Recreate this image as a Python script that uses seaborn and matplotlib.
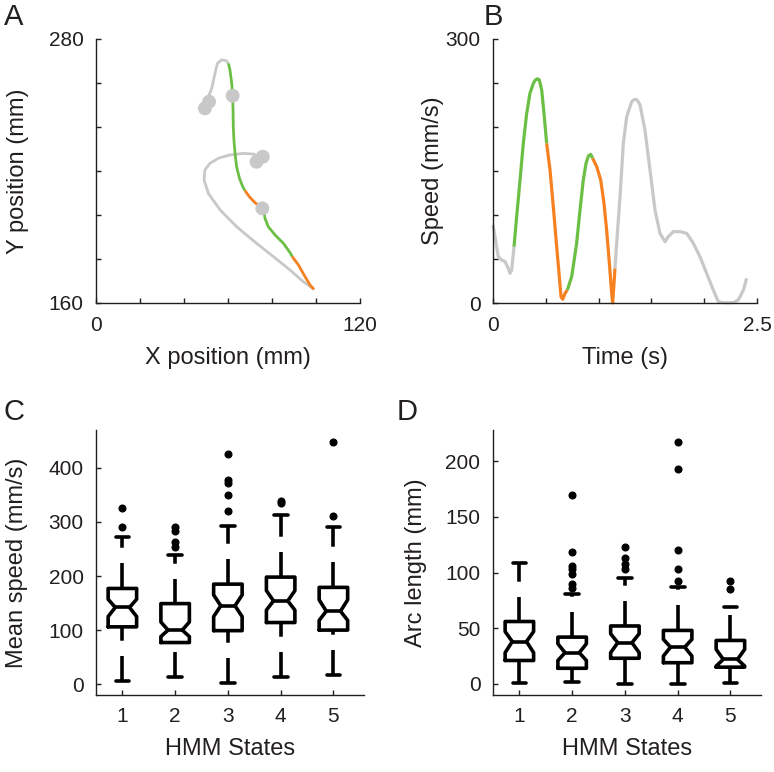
import matplotlib
matplotlib.use("Agg")
import matplotlib.pyplot as plt
import seaborn as sns

GRAY = "#c8c8c8"
GREEN = "#6cbf45"
ORANGE = "#f68121"
INK = "#231f20"

# ---- panel A: hand trajectory, pieces coloured by HMM state (mm)
a_gray1_x = [49.5, 50.6, 52.6, 54.1, 55.2, 57.1, 59.1, 60.2]
a_gray1_y = [248.5, 252.3, 257.6, 264.4, 268.9, 270.5, 270.2, 268.9]
a_green1_x = [60.2, 60.9, 61.7, 62.1, 62.3, 62.4, 62.7, 63.2, 63.9, 65.2, 66.7, 67.7]
a_green1_y = [268.9, 265.9, 259.8, 254.2, 247.7, 240.2, 234.1, 228.0, 222.0, 216.7, 212.9, 211.1]
a_orange1_x = [67.7, 69.7, 72.3, 74.5]
a_orange1_y = [211.1, 208.3, 205.6, 203.8]
a_gray2_x = [74.5, 76.1, 76.4]
a_gray2_y = [203.8, 202.3, 201.1]
a_green2_x = [76.4, 76.8, 78.3, 81.4, 85.2, 88.2, 89.2]
a_green2_y = [201.1, 198.5, 194.7, 190.9, 187.1, 182.9, 181.1]
a_orange2_x = [89.2, 92.0, 95.0, 97.3, 99.1]
a_orange2_y = [181.1, 177.3, 172.0, 168.2, 166.2]
a_gray3_x = [99.1, 94.2, 88.2, 80.6, 73.0, 63.9, 56.4, 51.1, 49.1, 49.5, 51.8,
             55.6, 60.9, 67.0, 71.5, 73.8, 75.3]
a_gray3_y = [166.2, 169.7, 175.0, 181.1, 187.1, 194.7, 202.3, 209.8, 215.9, 220.5,
             223.5, 225.8, 227.3, 228.0, 227.7, 226.8, 226.2]
a_dot_x = [49.5, 51.4, 62.1, 73.0, 75.8, 75.6]
a_dot_y = [248.5, 251.5, 254.2, 224.2, 226.5, 203.0]

# ---- panel B: speed profile (s, mm/s)
b_gray1_t = [0.0, 0.019, 0.050, 0.082, 0.114, 0.145, 0.161, 0.177, 0.199]
b_gray1_v = [88.6, 75.4, 52.7, 48.9, 47.0, 39.4, 33.7, 37.5, 64.0]
b_green1_t = [0.199, 0.224, 0.256, 0.287, 0.319, 0.350, 0.382, 0.400, 0.414, 0.427,
              0.439, 0.461, 0.483, 0.508]
b_green1_v = [64.0, 98.1, 139.8, 181.4, 215.5, 238.3, 249.6, 253.2, 254.5, 254.6,
              253.4, 242.0, 215.5, 181.4]
b_orange1_t = [0.508, 0.540, 0.571, 0.603, 0.628, 0.644, 0.660, 0.682, 0.704]
b_orange1_v = [181.4, 151.1, 109.5, 64.0, 29.9, 7.2, 4.2, 11.0, 14.8]
b_green2_t = [0.704, 0.745, 0.792, 0.824, 0.855, 0.881, 0.903, 0.925, 0.944]
b_green2_v = [14.8, 29.9, 67.8, 105.7, 139.8, 158.7, 167.0, 168.9, 164.4]
b_orange2_t = [0.944, 0.982, 1.020, 1.051, 1.076, 1.102, 1.124, 1.133, 1.146, 1.155]
b_orange2_v = [164.4, 154.9, 139.8, 113.3, 83.0, 45.1, 11.0, 0.0, 22.3, 39.4]
b_gray2_t = [1.155, 1.171, 1.203, 1.234, 1.266, 1.313, 1.335, 1.354, 1.372, 1.392,
             1.439, 1.487, 1.534, 1.581, 1.629, 1.660, 1.708, 1.771, 1.834, 1.897,
             1.960, 2.023, 2.086, 2.134, 2.181, 2.276, 2.323, 2.371, 2.402]
b_gray2_v = [39.4, 67.8, 120.8, 181.4, 211.7, 228.8, 231.0, 231.4, 229.5, 225.0,
             196.6, 151.1, 105.7, 79.2, 69.7, 75.4, 81.1, 81.1, 79.2, 67.8,
             52.7, 33.7, 14.8, 1.5, 0.4, 0.4, 3.4, 14.8, 28.0]

# ---- panels C/D: box statistics per HMM state
states = [1, 2, 3, 4, 5]
c_med = [142, 100, 145, 154, 135]
c_q1 = [106, 77, 99, 114, 100]
c_q3 = [177, 149, 185, 198, 179]
c_lo = [6, 13, 2, 13, 17]
c_hi = [273, 239, 293, 313, 291]
c_cilo = [125, 88, 125, 137, 118]
c_cihi = [157, 115, 165, 173, 156]
c_fliers = [[290, 325], [253, 263, 284, 290], [321, 349, 372, 378, 426], [335, 338], [311, 447]]

d_med = [38, 28, 37, 33, 22]
d_q1 = [21, 14, 23, 19, 15]
d_q3 = [56, 42, 52, 48, 39]
d_lo = [1, 2, 0, 0, 1]
d_hi = [109, 81, 95, 87, 69]
d_cilo = [28, 21, 28, 25, 16]
d_cihi = [47, 36, 45, 40, 31]
d_fliers = [[], [86, 90, 99, 103, 106, 118, 170], [103, 108, 113, 123],
            [92, 103, 120, 193, 217], [85, 92]]

sns.set_theme(style="ticks")
plt.rcParams["font.family"] = ["Liberation Sans", "DejaVu Sans"]
plt.rcParams["lines.scale_dashes"] = False
plt.rcParams["text.color"] = INK
plt.rcParams["axes.labelcolor"] = INK

fig = plt.figure(figsize=(7.74, 7.72), dpi=100)
W, H = 774, 772


def add_ax(x0, y_top, w, h):
    return fig.add_axes([x0 / W, 1 - (y_top + h) / H, w / W, h / H])


def style(ax):
    sns.despine(ax=ax)
    for s in ("left", "bottom"):
        ax.spines[s].set_color(INK)
        ax.spines[s].set_linewidth(1.0)
    ax.tick_params(direction="in", length=3.5, width=1, color=INK,
                   labelsize=15, labelcolor=INK, pad=9)


def segs(ax, pieces, lw, sort):
    for xs, ys, col in pieces:
        sns.lineplot(x=xs, y=ys, color=col, linewidth=lw, sort=sort,
                     estimator=None, ax=ax, clip_on=False,
                     solid_capstyle="butt", solid_joinstyle="round")


# A
axA = add_ax(96, 39, 264, 264)
segs(axA, [(a_gray1_x, a_gray1_y, GRAY), (a_gray3_x, a_gray3_y, GRAY),
           (a_gray2_x, a_gray2_y, GRAY),
           (a_green1_x, a_green1_y, GREEN), (a_orange1_x, a_orange1_y, ORANGE),
           (a_green2_x, a_green2_y, GREEN), (a_orange2_x, a_orange2_y, ORANGE)],
     2.0, False)
sns.scatterplot(x=a_dot_x, y=a_dot_y, color=GRAY, s=100, edgecolor="none",
                ax=axA, zorder=5)
axA.set_xlim(0, 120)
axA.set_ylim(160, 280)
axA.set_xticks(range(0, 121, 20))
axA.set_xticklabels(["0", "", "", "", "", "", "120"])
axA.set_yticks(range(160, 281, 20))
axA.set_yticklabels(["160", "", "", "", "", "", "280"])
axA.set_xlabel("X position (mm)", fontsize=17)
axA.set_ylabel("Y position (mm)", fontsize=17)
style(axA)
axA.xaxis.set_label_coords(0.5, -0.165)
axA.yaxis.set_label_coords(-0.254, 0.5)

# B
axB = add_ax(493, 39, 264, 264)
segs(axB, [(b_gray1_t, b_gray1_v, GRAY), (b_green1_t, b_green1_v, GREEN),
           (b_orange1_t, b_orange1_v, ORANGE), (b_green2_t, b_green2_v, GREEN),
           (b_orange2_t, b_orange2_v, ORANGE), (b_gray2_t, b_gray2_v, GRAY)],
     2.3, True)
axB.set_xlim(0, 2.5)
axB.set_ylim(0, 300)
axB.set_xticks([0, 0.5, 1.0, 1.5, 2.0, 2.5])
axB.set_xticklabels(["0", "", "", "", "", "2.5"])
axB.set_yticks(range(0, 301, 50))
axB.set_yticklabels(["0", "", "", "", "", "", "300"])
axB.set_xlabel("Time (s)", fontsize=17)
axB.set_ylabel("Speed (mm/s)", fontsize=17)
style(axB)
axB.xaxis.set_label_coords(0.5, -0.165)
axB.yaxis.set_label_coords(-0.186, 0.5)


def boxes(ax, med, q1, q3, lo, hi, cilo, cihi, fliers):
    stats = []
    for i in range(len(states)):
        stats.append(dict(med=med[i], q1=q1[i], q3=q3[i], whislo=lo[i],
                          whishi=hi[i], cilo=cilo[i], cihi=cihi[i],
                          fliers=fliers[i]))
    lw = 2.6
    res = ax.bxp(stats, positions=states, widths=0.54, capwidths=0.38,
                 shownotches=True,
                 boxprops=dict(color="black", linewidth=lw),
                 medianprops=dict(color="black", linewidth=lw),
                 whiskerprops=dict(color="black", linewidth=lw,
                                   linestyle=(0, (18, 11)), dash_capstyle="butt"),
                 capprops=dict(color="black", linewidth=lw),
                 flierprops=dict(marker="o", markerfacecolor="black",
                                 markeredgecolor="black", markersize=4.8,
                                 linestyle="none"))
    for i, st in enumerate(stats):
        # lower whisker drawn upward from the adjacent value, like MATLAB
        res["whiskers"][2 * i].set_ydata([st["whislo"], st["q1"]])
        for cap in res["caps"][2 * i:2 * i + 2]:
            cap.set_xdata([states[i] - 0.13, states[i] + 0.13])


# C
axC = add_ax(96, 430, 268, 265)
boxes(axC, c_med, c_q1, c_q3, c_lo, c_hi, c_cilo, c_cihi, c_fliers)
axC.set_xlim(0.5, 5.58)
axC.set_ylim(-20, 470)
axC.set_xticks(states)
axC.set_xticklabels([str(s) for s in states])
axC.set_yticks([0, 100, 200, 300, 400])
axC.set_xlabel("HMM States", fontsize=17)
axC.set_ylabel("Mean speed (mm/s)", fontsize=17)
style(axC)
axC.xaxis.set_label_coords(0.5, -0.162)
axC.yaxis.set_label_coords(-0.254, 0.5)

# D
axD = add_ax(493, 430, 268, 265)
boxes(axD, d_med, d_q1, d_q3, d_lo, d_hi, d_cilo, d_cihi, d_fliers)
axD.set_xlim(0.5, 5.58)
axD.set_ylim(-10, 228)
axD.set_xticks(states)
axD.set_xticklabels([str(s) for s in states])
axD.set_yticks([0, 50, 100, 150, 200])
axD.set_xlabel("HMM States", fontsize=17)
axD.set_ylabel("Arc length (mm)", fontsize=17)
style(axD)
axD.xaxis.set_label_coords(0.5, -0.162)
axD.yaxis.set_label_coords(-0.246, 0.5)

for lab, x, y in [("A", 14, 17), ("B", 493, 17), ("C", 14, 412), ("D", 407, 412)]:
    fig.text(x / W, 1 - y / H, lab, fontsize=21, ha="center", va="center", color=INK)

fig.savefig("out.png", dpi=100)
plt.close(fig)
